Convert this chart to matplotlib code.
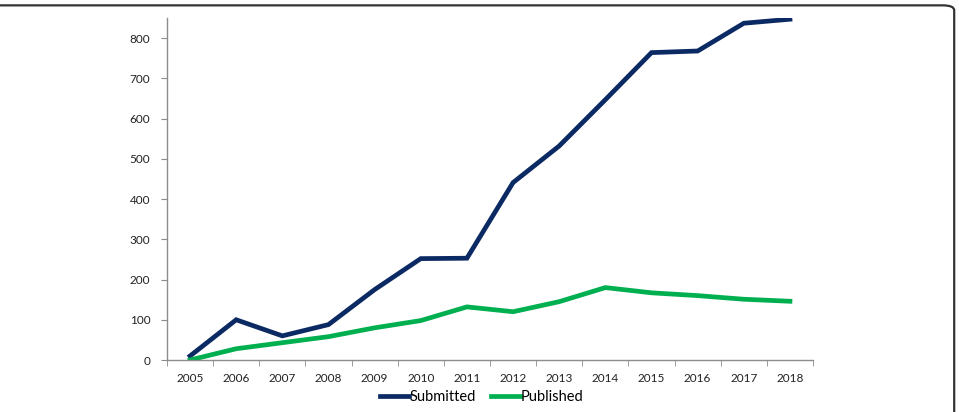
import matplotlib.pyplot as plt
from matplotlib.patches import FancyBboxPatch

# Data
years = ['2005', '2006', '2007', '2008', '2009', '2010', '2011',
         '2012', '2013', '2014', '2015', '2016', '2017', '2018']
submitted = [10, 100, 60, 88, 175, 252, 253, 441, 532, 647, 764, 768, 837, 847]
published = [0, 28, 43, 58, 80, 98, 132, 120, 145, 180, 167, 160, 151, 146]

plt.rcParams['font.family'] = ['Lato', 'DejaVu Sans']

fig = plt.figure(figsize=(9.59, 4.12), dpi=100)

# Rounded frame around the figure (partly cut off on left and bottom)
frame = FancyBboxPatch((-0.05, -0.1), 1.045, 1.087,
                       boxstyle='round,pad=0,rounding_size=0.012',
                       transform=fig.transFigure, fill=False,
                       edgecolor='#333333', linewidth=1.6)
fig.patches.append(frame)

ax = fig.add_axes([0.1741, 0.1262, 0.8478 - 0.1741, 0.9563 - 0.1262])

x = list(range(len(years)))
ax.plot(x, submitted, color='#0B2A63', linewidth=3.4, label='Submitted',
        solid_joinstyle='miter')
ax.plot(x, published, color='#00B050', linewidth=3.4, label='Published',
        solid_joinstyle='miter')

ax.set_xlim(-0.5, len(years) - 0.5)
ax.set_ylim(0, 850)
ax.set_yticks(range(0, 900, 100))

ax.set_xticks(x)
ax.set_xticklabels(years)
ax.set_xticks([i - 0.5 for i in range(len(years) + 1)], minor=True)
ax.tick_params(axis='x', which='major', length=0, pad=9, labelsize=8.5,
               colors='#222222')
ax.tick_params(axis='x', which='minor', length=4, color='#8c8c8c')
ax.tick_params(axis='y', length=4, color='#8c8c8c', pad=8, labelsize=8.5,
               labelcolor='#222222')

for side in ['top', 'right']:
    ax.spines[side].set_visible(False)
for side in ['left', 'bottom']:
    ax.spines[side].set_color('#8c8c8c')
    ax.spines[side].set_linewidth(1.0)

fig.legend(loc='center', bbox_to_anchor=(0.502, 0.037), ncol=2,
           frameon=False, fontsize=10.5, handlelength=2.0,
           handletextpad=0.05, columnspacing=1.0)

fig.savefig('out.png', dpi=100)
